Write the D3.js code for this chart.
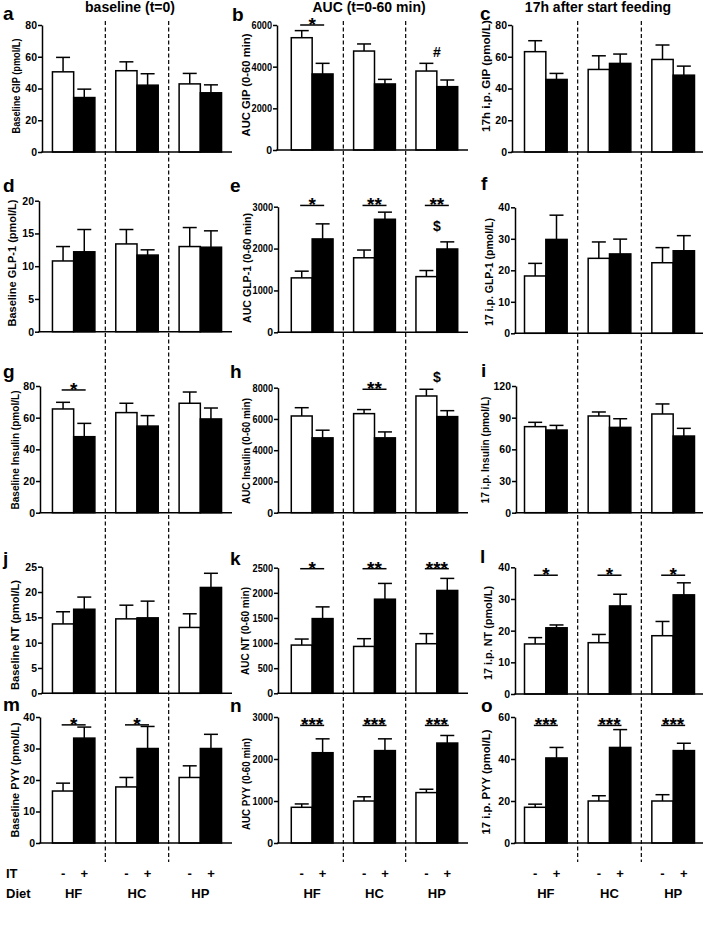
<!DOCTYPE html>
<html><head><meta charset="utf-8">
<script src="https://cdn.jsdelivr.net/npm/d3@7"></script>
<style>
body{margin:0;background:#fff}
svg{display:block}
text{font-family:"Liberation Sans",Arial,Helvetica,sans-serif;font-weight:bold;fill:#000}
</style>
</head><body>
<svg id="chart" width="708" height="926"></svg>
<script>
// ---------- categories / labels ----------
const diets = ["HF", "HC", "HP"];
const itLevels = ["-", "+"];
const columnTitles = ["baseline (t=0)", "AUC (t=0-60 min)", "17h after start feeding"];

// ---------- data (mean and SEM, IT- / IT+ for HF, HC, HP) ----------
// a: Baseline GIP
const gipBaseMinus = [50.5, 51.2, 42.9];
const gipBaseMinusSem = [9.1, 5.6, 6.6];
const gipBasePlus = [34.3, 42.1, 37.3];
const gipBasePlusSem = [5.3, 7.2, 5.0];
const gipBaseTicks = [0, 20, 40, 60, 80];
// b: AUC GIP
const gipAucMinus = [5390, 4750, 3790];
const gipAucMinusSem = [340, 340, 370];
const gipAucPlus = [3650, 3170, 3040];
const gipAucPlusSem = [510, 220, 320];
const gipAucTicks = [0, 2000, 4000, 6000];
// c: 17h GIP
const gip17Minus = [63.2, 52.0, 58.3];
const gip17MinusSem = [6.9, 8.6, 9.1];
const gip17Plus = [45.7, 55.8, 48.4];
const gip17PlusSem = [3.8, 5.9, 5.7];
const gip17Ticks = [0, 20, 40, 60, 80];
// d: Baseline GLP-1
const glpBaseMinus = [10.8, 13.4, 13.0];
const glpBaseMinusSem = [2.2, 2.2, 2.9];
const glpBasePlus = [12.2, 11.7, 12.9];
const glpBasePlusSem = [3.4, 0.8, 2.5];
const glpBaseTicks = [0, 5, 10, 15, 20];
// e: AUC GLP-1
const glpAucMinus = [1300, 1780, 1330];
const glpAucMinusSem = [160, 185, 145];
const glpAucPlus = [2230, 2700, 1990];
const glpAucPlusSem = [360, 170, 170];
const glpAucTicks = [0, 1000, 2000, 3000];
// f: 17 i.p. GLP-1
const glp17Minus = [18.2, 23.8, 22.4];
const glp17MinusSem = [4.0, 5.2, 4.8];
const glp17Plus = [29.8, 25.2, 26.2];
const glp17PlusSem = [7.7, 4.7, 4.8];
const glp17Ticks = [0, 10, 20, 30, 40];
// g: Baseline Insulin
const insBaseMinus = [65.5, 63.2, 69.1];
const insBaseMinusSem = [4.2, 5.9, 7.1];
const insBasePlus = [48.0, 54.7, 59.2];
const insBasePlusSem = [8.4, 6.6, 6.9];
const insBaseTicks = [0, 20, 40, 60, 80];
// h: AUC Insulin
const insAucMinus = [6190, 6340, 7470];
const insAucMinusSem = [530, 260, 430];
const insAucPlus = [4790, 4790, 6150];
const insAucPlusSem = [490, 380, 380];
const insAucTicks = [0, 2000, 4000, 6000, 8000];
// i: 17 i.p. Insulin
const ins17Minus = [81.5, 91.6, 93.5];
const ins17MinusSem = [4.1, 3.8, 9.5];
const ins17Plus = [78.3, 80.8, 72.6];
const ins17PlusSem = [4.4, 8.2, 7.3];
const ins17Ticks = [0, 30, 60, 90, 120];
// j: Baseline NT
const ntBaseMinus = [13.7, 14.7, 13.0];
const ntBaseMinusSem = [2.4, 2.7, 2.7];
const ntBasePlus = [16.6, 14.9, 20.9];
const ntBasePlusSem = [2.4, 3.3, 2.8];
const ntBaseTicks = [0, 5, 10, 15, 20, 25];
// k: AUC NT
const ntAucMinus = [960, 933, 987];
const ntAucMinusSem = [120, 154, 200];
const ntAucPlus = [1487, 1873, 2047];
const ntAucPlusSem = [233, 314, 240];
const ntAucTicks = [0, 500, 1000, 1500, 2000, 2500];
// l: 17 i.p. NT
const nt17Minus = [15.8, 16.2, 18.4];
const nt17MinusSem = [2.0, 2.6, 4.5];
const nt17Plus = [20.9, 27.8, 31.3];
const nt17PlusSem = [0.9, 3.7, 3.8];
const nt17Ticks = [0, 10, 20, 30, 40];
// m: Baseline PYY
const pyyBaseMinus = [16.5, 17.8, 20.8];
const pyyBaseMinusSem = [2.5, 3.0, 3.7];
const pyyBasePlus = [33.3, 30.0, 30.0];
const pyyBasePlusSem = [3.5, 7.0, 4.5];
const pyyBaseTicks = [0, 10, 20, 30, 40];
// n: AUC PYY
const pyyAucMinus = [850, 1000, 1200];
const pyyAucMinusSem = [80, 100, 80];
const pyyAucPlus = [2150, 2200, 2380];
const pyyAucPlusSem = [330, 280, 180];
const pyyAucTicks = [0, 1000, 2000, 3000];
// o: 17 i.p. PYY
const pyy17Minus = [17, 20, 20];
const pyy17MinusSem = [1.5, 2.5, 3.0];
const pyy17Plus = [40.5, 45.5, 44];
const pyy17PlusSem = [5.0, 8.5, 3.5];
const pyy17Ticks = [0, 20, 40, 60];

// significance marks: panel, diet, label, value level, with bar line?
const sigMarks = [
  ["b", "HF", "*", 6000, true], ["b", "HP", "#", 4480, false],
  ["e", "HF", "*", 3030, true], ["e", "HC", "**", 3030, true], ["e", "HP", "**", 3030, true], ["e", "HP", "$", 2420, false],
  ["g", "HF", "*", 77.5, true],
  ["h", "HC", "**", 7900, true], ["h", "HP", "$", 8360, false],
  ["k", "HF", "*", 2480, true], ["k", "HC", "**", 2480, true], ["k", "HP", "***", 2480, true],
  ["l", "HF", "*", 37.5, true], ["l", "HC", "*", 37.5, true], ["l", "HP", "*", 37.5, true],
  ["m", "HF", "*", 37.5, true], ["m", "HC", "*", 37.5, true],
  ["n", "HF", "***", 2800, true], ["n", "HC", "***", 2800, true], ["n", "HP", "***", 2800, true],
  ["o", "HF", "***", 56, true], ["o", "HC", "***", 56, true], ["o", "HP", "***", 56, true]
];

const panels = [
  {id:"a", col:0, title:"Baseline GIP (pmol/L)", minus:gipBaseMinus, minusSem:gipBaseMinusSem, plus:gipBasePlus, plusSem:gipBasePlusSem, ticks:gipBaseTicks},
  {id:"b", col:1, title:"AUC  GIP (0-60 min)", minus:gipAucMinus, minusSem:gipAucMinusSem, plus:gipAucPlus, plusSem:gipAucPlusSem, ticks:gipAucTicks},
  {id:"c", col:2, title:"17h i.p. GIP (pmol/L)", minus:gip17Minus, minusSem:gip17MinusSem, plus:gip17Plus, plusSem:gip17PlusSem, ticks:gip17Ticks},
  {id:"d", col:0, title:"Baseline GLP-1 (pmol/L)", minus:glpBaseMinus, minusSem:glpBaseMinusSem, plus:glpBasePlus, plusSem:glpBasePlusSem, ticks:glpBaseTicks},
  {id:"e", col:1, title:"AUC GLP-1 (0-60 min)", minus:glpAucMinus, minusSem:glpAucMinusSem, plus:glpAucPlus, plusSem:glpAucPlusSem, ticks:glpAucTicks},
  {id:"f", col:2, title:"17 i.p. GLP-1 (pmol/L)", minus:glp17Minus, minusSem:glp17MinusSem, plus:glp17Plus, plusSem:glp17PlusSem, ticks:glp17Ticks},
  {id:"g", col:0, title:"Baseline Insulin (pmol/L)", minus:insBaseMinus, minusSem:insBaseMinusSem, plus:insBasePlus, plusSem:insBasePlusSem, ticks:insBaseTicks},
  {id:"h", col:1, title:"AUC Insulin (0-60 min)", minus:insAucMinus, minusSem:insAucMinusSem, plus:insAucPlus, plusSem:insAucPlusSem, ticks:insAucTicks},
  {id:"i", col:2, title:"17 i.p. Insulin (pmol/L)", minus:ins17Minus, minusSem:ins17MinusSem, plus:ins17Plus, plusSem:ins17PlusSem, ticks:ins17Ticks},
  {id:"j", col:0, title:"Baseline NT (pmol/L)", minus:ntBaseMinus, minusSem:ntBaseMinusSem, plus:ntBasePlus, plusSem:ntBasePlusSem, ticks:ntBaseTicks},
  {id:"k", col:1, title:"AUC NT (0-60 min)", minus:ntAucMinus, minusSem:ntAucMinusSem, plus:ntAucPlus, plusSem:ntAucPlusSem, ticks:ntAucTicks},
  {id:"l", col:2, title:"17 i.p. NT (pmol/L)", minus:nt17Minus, minusSem:nt17MinusSem, plus:nt17Plus, plusSem:nt17PlusSem, ticks:nt17Ticks},
  {id:"m", col:0, title:"Baseline PYY (pmol/L)", minus:pyyBaseMinus, minusSem:pyyBaseMinusSem, plus:pyyBasePlus, plusSem:pyyBasePlusSem, ticks:pyyBaseTicks},
  {id:"n", col:1, title:"AUC PYY (0-60 min)", minus:pyyAucMinus, minusSem:pyyAucMinusSem, plus:pyyAucPlus, plusSem:pyyAucPlusSem, ticks:pyyAucTicks},
  {id:"o", col:2, title:"17 i.p. PYY (pmol/L)", minus:pyy17Minus, minusSem:pyy17MinusSem, plus:pyy17Plus, plusSem:pyy17PlusSem, ticks:pyy17Ticks}
];

// ---------- layout ----------
const colBand = [[42, 232], [281, 468], [514, 705]];
const colAxisEnd = [232, 468, 703];
const colTitleX = [130, 369, 598];
// axisX, top(max tick y), zero y, title baseline x, title center y, title length, letter x, letter baseline y
const layout = {
  a:[42, 25, 152, 19.7, 86, 95, 3, 20],
  b:[277, 25, 150, 249.7, 85, 103, 232, 21],
  c:[512, 25, 152, 489.7, 76, 112, 480, 20],
  d:[39, 200.7, 331.7, 16, 263, 127, 3, 192],
  e:[278, 206.7, 332.3, 250.5, 268, 110, 230, 192],
  f:[515, 207.3, 333.3, 493, 272, 108, 481, 190],
  g:[40, 386, 512.7, 18.5, 450, 119, 3, 378],
  h:[278, 387.7, 512.7, 249.5, 451, 106, 230, 378],
  i:[516, 386, 512.7, 488.5, 450, 107, 481, 377],
  j:[42, 566.7, 693.3, 18.5, 635, 110, 3, 565],
  k:[278, 567.7, 693.3, 248.5, 631, 88, 230, 565],
  l:[515, 567.3, 694, 492, 633, 94, 480, 563],
  m:[40, 717, 843, 18.5, 780, 115, 3, 711],
  n:[278, 717, 843, 249.5, 784, 92, 230, 712],
  o:[515, 717, 843, 489.5, 782, 105, 481, 712]
};

const svg = d3.select("#chart");
const FS = "Liberation Sans, Arial, sans-serif";

const xScales = colBand.map(r => d3.scaleBand().domain(diets).range(r).paddingInner(0.33).paddingOuter(0.165));

// dashed separators
xScales.forEach((x, c) => {
  const r0 = x.range()[0], st = x.step();
  [1, 2].forEach(k => {
    svg.append("line")
      .attr("x1", r0 + st * k).attr("x2", r0 + st * k)
      .attr("y1", 21).attr("y2", 862)
      .attr("stroke", "#000").attr("stroke-width", 1.2)
      .attr("stroke-dasharray", "4,2.5");
  });
});

// column titles
columnTitles.forEach((t, c) => {
  svg.append("text").attr("x", colTitleX[c]).attr("y", 12)
    .attr("text-anchor", "middle").attr("font-size", 14).text(t);
});

const yScales = {};
panels.forEach(p => {
  const [axisX, top, zero, tX, tY, tLen, lX, lY] = layout[p.id];
  const x = xScales[p.col];
  const xi = d3.scaleBand().domain(itLevels).range([0, x.bandwidth()]);
  const y = d3.scaleLinear().domain([0, d3.max(p.ticks)]).range([zero, top]);
  yScales[p.id] = y;
  const g = svg.append("g");

  const rows = [];
  diets.forEach((d, i) => {
    rows.push({diet:d, it:"-", v:p.minus[i], e:p.minusSem[i]});
    rows.push({diet:d, it:"+", v:p.plus[i], e:p.plusSem[i]});
  });
  const cx = d => x(d.diet) + xi(d.it) + xi.bandwidth() / 2;

  g.selectAll("line.err").data(rows).join("line").attr("class", "err")
    .attr("x1", cx).attr("x2", cx)
    .attr("y1", d => y(d.v)).attr("y2", d => y(d.v + d.e))
    .attr("stroke", "#000").attr("stroke-width", 1.5);
  g.selectAll("line.cap").data(rows).join("line").attr("class", "cap")
    .attr("x1", d => cx(d) - 7).attr("x2", d => cx(d) + 7)
    .attr("y1", d => y(d.v + d.e)).attr("y2", d => y(d.v + d.e))
    .attr("stroke", "#000").attr("stroke-width", 1.5);
  g.selectAll("rect").data(rows).join("rect")
    .attr("x", d => x(d.diet) + xi(d.it))
    .attr("width", xi.bandwidth())
    .attr("y", d => y(d.v))
    .attr("height", d => y(0) - y(d.v))
    .attr("fill", d => d.it === "-" ? "#fff" : "#000")
    .attr("stroke", "#000").attr("stroke-width", 1.5);

  // y axis
  const ax = d3.axisLeft(y).tickValues(p.ticks).tickSize(4).tickSizeOuter(0).tickPadding(1).tickFormat(d3.format("d"));
  const ag = g.append("g").attr("transform", `translate(${axisX},0)`).call(ax);
  ag.attr("font-family", null).attr("font-size", null);
  ag.select(".domain").attr("stroke-width", 1.5);
  ag.selectAll(".tick line").attr("stroke-width", 1.5);
  ag.selectAll(".tick text").attr("font-size", 10.5).style("font-family", FS).style("font-weight", "bold")
    .each(function(d) {
      if (p.col === 1) {
        const s = String(d);
        if (s.length > 1) d3.select(this).attr("textLength", s.length * 5.1).attr("lengthAdjust", "spacingAndGlyphs");
      }
    });
  // x axis line
  g.append("line").attr("x1", axisX - 0.75).attr("x2", colAxisEnd[p.col])
    .attr("y1", y(0)).attr("y2", y(0)).attr("stroke", "#000").attr("stroke-width", 1.5);

  // y title
  g.append("text").attr("transform", `translate(${tX},${tY}) rotate(-90)`)
    .attr("text-anchor", "middle").attr("font-size", 10)
    .attr("textLength", tLen).attr("lengthAdjust", "spacingAndGlyphs").text(p.title);

  // panel letter
  svg.append("text").attr("x", lX).attr("y", lY).attr("font-size", 19).text(p.id);
});

// significance
sigMarks.forEach(([pid, diet, label, level, withLine]) => {
  const p = panels.find(q => q.id === pid);
  const x = xScales[p.col];
  const y = yScales[pid];
  const c = x(diet) + x.bandwidth() / 2;
  const yy = y(level);
  if (withLine) {
    svg.append("line").attr("x1", c - 12).attr("x2", c + 12).attr("y1", yy).attr("y2", yy)
      .attr("stroke", "#000").attr("stroke-width", 1.5);
    svg.append("text").attr("x", c).attr("y", yy + 6).attr("text-anchor", "middle")
      .attr("font-size", 19).text(label);
  } else {
    svg.append("text").attr("x", c).attr("y", yy).attr("text-anchor", "middle")
      .attr("font-size", 14).text(label);
  }
});

// bottom labels
xScales.forEach((x, c) => {
  const xi = d3.scaleBand().domain(itLevels).range([0, x.bandwidth()]);
  diets.forEach(d => {
    itLevels.forEach(it => {
      svg.append("text").attr("x", x(d) + xi(it) + xi.bandwidth() / 2).attr("y", 878)
        .attr("text-anchor", "middle").attr("font-size", 13).text(it);
    });
    svg.append("text").attr("x", x(d) + x.bandwidth() / 2).attr("y", 898)
      .attr("text-anchor", "middle").attr("font-size", 13).text(d);
  });
});
svg.append("text").attr("x", 6).attr("y", 878).attr("font-size", 13).text("IT");
svg.append("text").attr("x", 6).attr("y", 898).attr("font-size", 13).text("Diet");
</script>
</body></html>
